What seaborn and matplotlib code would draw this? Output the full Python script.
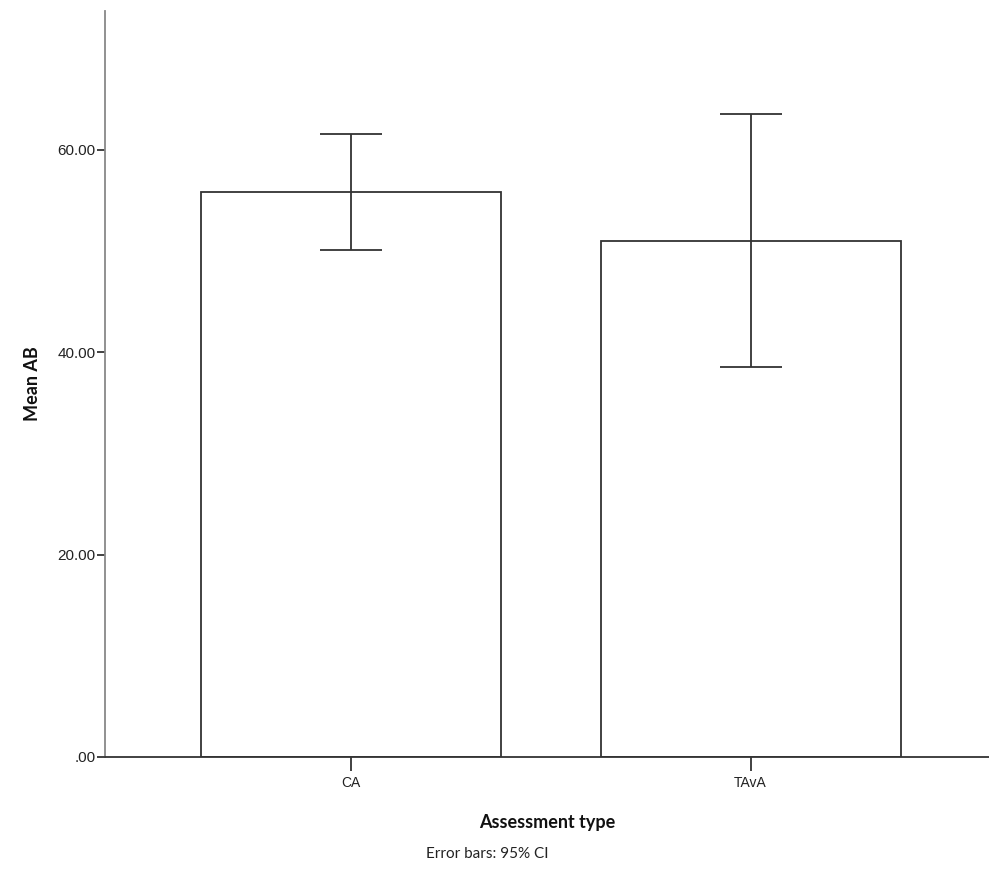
import matplotlib
matplotlib.use("Agg")
import matplotlib.pyplot as plt
import seaborn as sns
import pandas as pd
import numpy as np

# Mean AB by assessment type with 95% confidence intervals
categories = ["CA", "TAvA"]
means = [55.8, 51.0]
ci_low = [50.1, 38.5]
ci_high = [61.55, 63.55]
ytick_values = [0, 20, 40, 60]
ytick_labels = [".00", "20.00", "40.00", "60.00"]

df = pd.DataFrame({"Assessment type": categories, "Mean AB": means})

sns.set_style("white")
plt.rcParams["font.family"] = ["Liberation Sans Narrow", "Liberation Sans", "DejaVu Sans"]

fig = plt.figure(figsize=(9.89, 8.93), dpi=100)
ax = fig.add_axes([105 / 989, (893 - 757) / 893, 1 - 105 / 989, (757 - 11) / 893])

sns.barplot(data=df, x="Assessment type", y="Mean AB", ax=ax, color="white",
            edgecolor="#333333", linewidth=1.3, width=0.75, errorbar=None)
for p in ax.patches:
    p.set_facecolor("white")

lower = np.array(means) - np.array(ci_low)
upper = np.array(ci_high) - np.array(means)
ax.errorbar(np.arange(len(categories)), means, yerr=[lower, upper], fmt="none",
            ecolor="#333333", elinewidth=1.3, capsize=22, capthick=1.3)

ax.set_xlim(-0.614, 1.596)
ax.set_ylim(0, 73.7)
ax.set_yticks(ytick_values)
ax.set_yticklabels(ytick_labels)

for side in ["top", "right"]:
    ax.spines[side].set_visible(False)
ax.spines["left"].set_color("#888888")
ax.spines["bottom"].set_color("#333333")
ax.spines["left"].set_linewidth(1.3)
ax.spines["bottom"].set_linewidth(1.3)

ax.tick_params(axis="y", which="major", left=True, length=6, width=1.3,
               color="#333333", labelsize=11, pad=1, labelcolor="#222222")
ax.tick_params(axis="x", which="major", bottom=True, length=10, width=1.3,
               color="#333333", labelsize=10, pad=4, labelcolor="#222222")

ax.set_xlabel("Assessment type", fontsize=13, fontweight="bold",
              family=["Lato", "DejaVu Sans"], labelpad=17, color="#111111")
ax.set_ylabel("Mean AB", fontsize=13, fontweight="bold",
              family=["Lato", "DejaVu Sans"], color="#111111")
ax.yaxis.set_label_coords(-64 / 884, 0.5)

fig.text(487 / 989, 1 - 854 / 893, "Error bars: 95% CI", ha="center", va="center",
         fontsize=11, family=["Lato", "DejaVu Sans"], color="#222222")

fig.savefig("out.png", dpi=100, facecolor="white")
